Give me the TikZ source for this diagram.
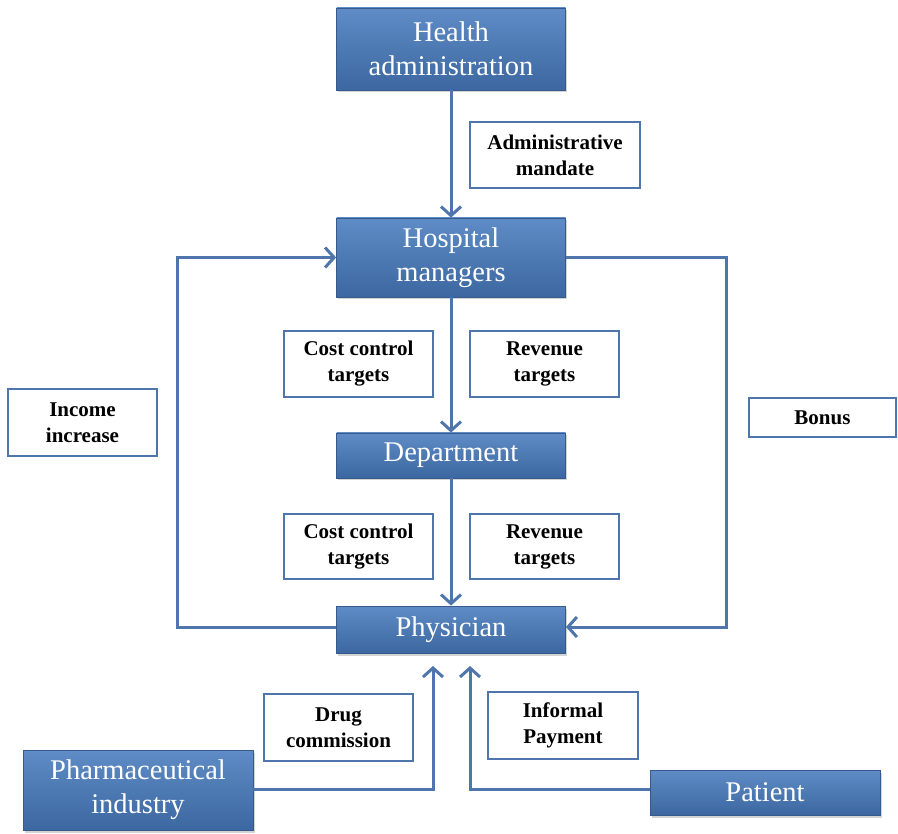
\documentclass[tikz,border=0pt]{standalone}
\usepackage{fontspec}
\setmainfont{Liberation Serif}
\usetikzlibrary{arrows.meta,shadows}
\definecolor{lineblue}{RGB}{79,118,172}
\definecolor{boxtop}{RGB}{95,140,198}
\definecolor{boxbot}{RGB}{60,103,160}
\definecolor{boxedge}{RGB}{55,90,140}
\tikzset{
  actor/.style={draw=boxedge, line width=0.8pt, top color=boxtop, bottom color=boxbot,
    text=white, font=\fontsize{28.5}{34}\selectfont, align=center, inner sep=0pt,
    drop shadow={shadow xshift=1.5pt, shadow yshift=-2.5pt, opacity=0.35}},
  lbl/.style={draw=lineblue, line width=2.4pt, fill=white, font=\bfseries\fontsize{21}{26}\selectfont,
    align=center, inner sep=0pt},
  conn/.style={draw=lineblue, line width=3pt},
  arr/.style={conn, -{Straight Barb[length=9pt,width=20pt,line width=3pt]}}
}
\begin{document}
\begin{tikzpicture}[x=1pt,y=-1pt]
\useasboundingbox (0,0) rectangle (898,834);
% actors
\node[actor, minimum width=229pt, minimum height=82pt] (health) at (451,49) {Health\\administration};
\node[actor, minimum width=229pt, minimum height=79pt] (hosp) at (451,257.5) {Hospital\\managers};
\node[actor, minimum width=229pt, minimum height=45pt] (dept) at (451,455.5) {Department};
\node[actor, minimum width=229pt, minimum height=47pt] (phys) at (451,629.5) {Physician};
\node[actor, minimum width=230pt, minimum height=80pt] (pharma) at (138,790) {Pharmaceutical\\industry};
\node[actor, minimum width=230pt, minimum height=45pt] (patient) at (765,792.5) {Patient};
% labels
\node[lbl, minimum width=170pt, minimum height=66pt] (mandate) at (555,155) {Administrative\\mandate};
\node[lbl, minimum width=149pt, minimum height=66pt] (cc1) at (358.5,364) {Cost control\\targets};
\node[lbl, minimum width=149pt, minimum height=66pt] (rv1) at (544.5,364) {Revenue\\targets};
\node[lbl, minimum width=149pt, minimum height=67pt] (inc) at (82.5,422.5) {Income\\increase};
\node[lbl, minimum width=147pt, minimum height=39pt] (bonus) at (822.5,417.5) {Bonus};
\node[lbl, minimum width=149pt, minimum height=65pt] (cc2) at (358.5,546.5) {Cost control\\targets};
\node[lbl, minimum width=149pt, minimum height=65pt] (rv2) at (544.5,546.5) {Revenue\\targets};
\node[lbl, minimum width=149pt, minimum height=67pt] (drug) at (338.5,727.5) {Drug\\commission};
\node[lbl, minimum width=150pt, minimum height=67pt] (inf) at (563,725.5) {Informal\\Payment};
% coordinates
\coordinate (lx) at (177,0);
\coordinate (rx) at (726,0);
\coordinate (yP) at (0,627);
\coordinate (yB) at (0,789);
\coordinate (tipL) at (433,666);
\coordinate (tipR) at (470,666);
% connectors
\draw[arr] (health.south) -- (hosp.north);
\draw[arr] (hosp.south) -- (dept.north);
\draw[arr] (dept.south) -- (phys.north);
\draw[arr] (phys.west |- yP) -| (lx |- hosp.west) -- (hosp.west);
\draw[arr] (hosp.east) -| (rx |- yP) -- (phys.east |- yP);
\draw[arr] (pharma.east |- yB) -| (tipL);
\draw[arr] (patient.west |- yB) -| (tipR);
\end{tikzpicture}
\end{document}
